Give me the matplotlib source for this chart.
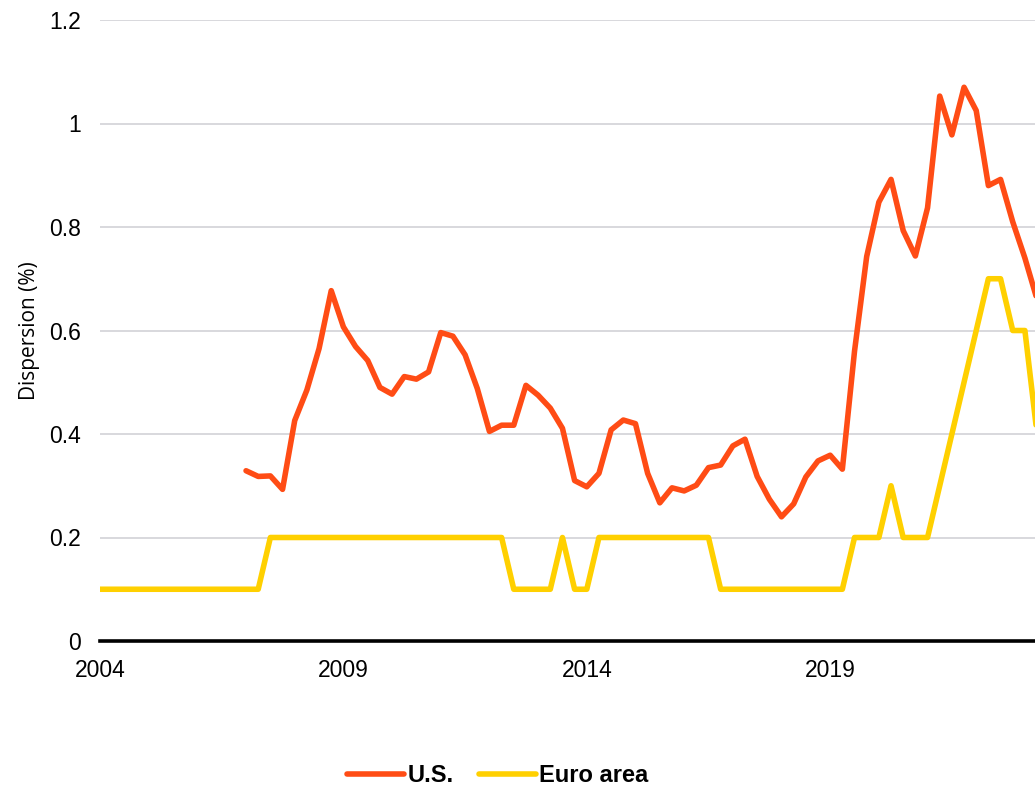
import matplotlib
matplotlib.use("Agg")
import matplotlib.pyplot as plt
import numpy as np

# quarterly series, 2004Q1 .. 2023Q3
quarters = [f"{2004 + i // 4}Q{i % 4 + 1}" for i in range(78)]
year_ticks = ["2004", "2009", "2014", "2019"]

# U.S. starts in 2007Q1
us_start = 12
us = [0.329, 0.318, 0.319, 0.293, 0.426, 0.485, 0.565, 0.677, 0.607, 0.569,
      0.542, 0.490, 0.477, 0.511, 0.506, 0.520, 0.596, 0.589, 0.553, 0.488,
      0.405, 0.417, 0.417, 0.494, 0.475, 0.450, 0.411, 0.310, 0.298, 0.324,
      0.408, 0.427, 0.420, 0.324, 0.267, 0.296, 0.290, 0.301, 0.335, 0.340,
      0.377, 0.390, 0.318, 0.274, 0.240, 0.265, 0.317, 0.348, 0.359, 0.332,
      0.560, 0.743, 0.848, 0.892, 0.793, 0.744, 0.837, 1.053, 0.978, 1.070,
      1.025, 0.880, 0.892, 0.810, 0.740, 0.660]

euro = ([0.1] * 14 + [0.2] * 20 + [0.1] * 4 + [0.2] + [0.1] * 2 + [0.2] * 10
        + [0.1] * 11 + [0.2] * 3 + [0.3] + [0.2] * 3
        + [0.3, 0.4, 0.5, 0.6, 0.7, 0.7, 0.6, 0.6, 0.4])

x_all = np.arange(len(quarters))
x_us = x_all[us_start:us_start + len(us)]

fig = plt.figure(figsize=(10.35, 7.89), dpi=100)
ax = fig.add_axes([100 / 1035, 1 - 641 / 789, 1 - 100 / 1035, (641 - 20) / 789])

ax.plot(x_us, us, color="#FF4C15", lw=4.0, solid_joinstyle="round",
        solid_capstyle="round", label="U.S.", zorder=3)
ax.plot(x_all, euro, color="#FFD000", lw=4.0, solid_joinstyle="round",
        solid_capstyle="round", label="Euro area", zorder=2)

ax.set_xlim(0, 76.83)
ax.set_ylim(0, 1.2)
ax.set_yticks([0, 0.2, 0.4, 0.6, 0.8, 1.0, 1.2])
ax.set_yticklabels(["0", "0.2", "0.4", "0.6", "0.8", "1", "1.2"])
ax.set_xticks([quarters.index(y + "Q1") for y in year_ticks])
ax.set_xticklabels(year_ticks)

for s in ["top", "right", "left"]:
    ax.spines[s].set_visible(False)
ax.spines["bottom"].set_linewidth(2.6)
ax.spines["bottom"].set_color("black")
ax.spines["bottom"].set_zorder(4)

ax.grid(axis="y", color="#D8D8DD", lw=1.4)
ax.set_axisbelow(True)
ax.tick_params(axis="both", length=0, labelsize=16.5)
ax.tick_params(axis="y", pad=14)
ax.tick_params(axis="x", pad=13)
for lab in ax.get_xticklabels() + ax.get_yticklabels():
    lab.set_family("Liberation Sans")

ax.set_ylabel("Dispersion (%)", family="Open Sans", fontsize=15, labelpad=6)

leg = fig.legend(loc="center", bbox_to_anchor=(0.481, 0.017), ncol=2, frameon=False,
                 handlelength=2.4, handletextpad=0.15, columnspacing=1.1,
                 borderpad=0.2,
                 prop={"family": "Liberation Sans", "weight": "bold", "size": 17})

fig.savefig("out.png", dpi=100)
